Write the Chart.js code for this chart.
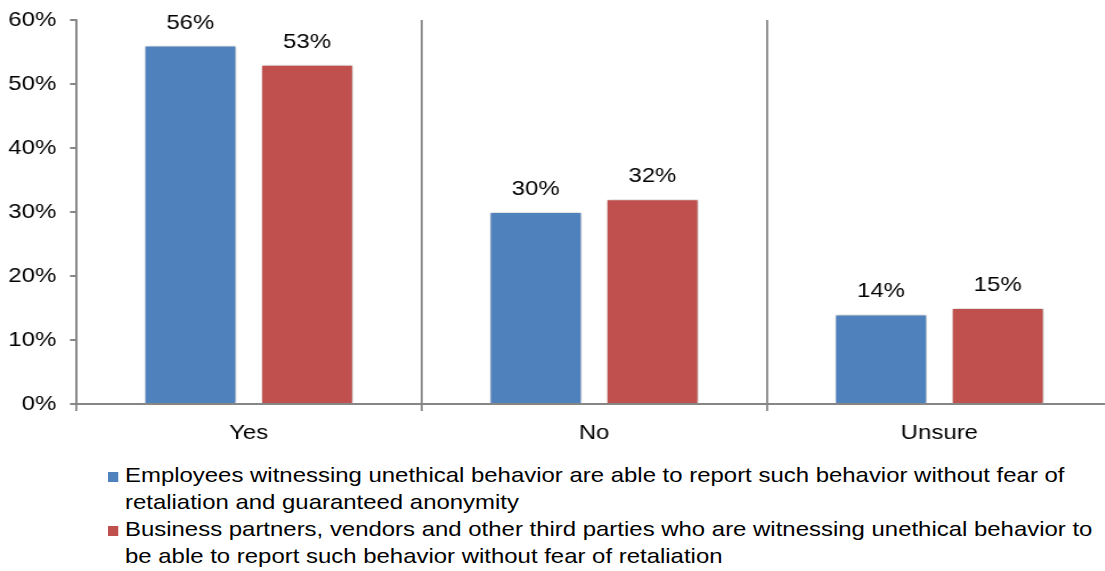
<!DOCTYPE html>
<html>
<head>
<meta charset="utf-8">
<script src="https://cdn.jsdelivr.net/npm/chart.js@4/dist/chart.umd.min.js"></script>
<style>
  html, body { margin: 0; padding: 0; background: #fff; overflow: hidden; }
  #wrap { position: relative; width: 1115px; height: 450px; }
  #myChart { width: 1115px; height: 450px; display: block; }
  #legend { position: absolute; left: 108px; top: 461px; font-family: "Liberation Sans", Arial, sans-serif; font-size: 21px; color: #000; line-height: 27px; white-space: nowrap; transform: scaleX(1.14); transform-origin: left top; }
  .item { position: relative; padding-left: 14.9px; }
  .box { position: absolute; left: 0; top: 11px; width: 8.8px; height: 10px; }
</style>
</head>
<body>
<div id="wrap"><canvas id="myChart" width="978" height="450" style="width:1115px;height:450px"></canvas></div>
<div id="legend"></div>
<script>
const categories = ['Yes', 'No', 'Unsure'];
const employees = [56, 30, 14];
const partners = [53, 32, 15];
const yTicks = [0, 10, 20, 30, 40, 50, 60];
const seriesNames = [
	'Employees witnessing unethical behavior are able to report such behavior without fear of retaliation and guaranteed anonymity',
	'Business partners, vendors and other third parties who are witnessing unethical behavior to be able to report such behavior without fear of retaliation'
];
// line breaks as in the original legend
const legendLines = [
	['Employees witnessing unethical behavior are able to report such behavior without fear of', 'retaliation and guaranteed anonymity'],
	['Business partners, vendors and other third parties who are witnessing unethical behavior to', 'be able to report such behavior without fear of retaliation']
];
const colors = ['#4F81BD', '#C0504D'];

const font = '"Liberation Sans", Arial, sans-serif';
Chart.defaults.font.family = font;
Chart.defaults.font.size = 21;
Chart.defaults.color = '#000';

// the original is a bit stretched sideways, so the canvas is drawn narrower and scaled up by css
const barShadow = {
	id: 'barShadow',
	beforeDatasetsDraw(chart) {
		const ctx = chart.ctx;
		ctx.save();
		ctx.shadowColor = 'rgba(0, 0, 0, 0.28)';
		ctx.shadowBlur = 4;
		ctx.shadowOffsetX = 1;
		ctx.shadowOffsetY = 0;
	},
	afterDatasetsDraw(chart) {
		chart.ctx.restore();
	}
};

const valueLabels = {
	id: 'valueLabels',
	afterDatasetsDraw(chart) {
		const ctx = chart.ctx;
		ctx.save();
		ctx.font = '21px ' + font;
		ctx.fillStyle = '#000';
		ctx.textAlign = 'center';
		ctx.textBaseline = 'alphabetic';
		chart.data.datasets.forEach((ds, i) => {
			chart.getDatasetMeta(i).data.forEach((bar, j) => {
				ctx.fillText(ds.data[j] + '%', bar.x, bar.y - 17);
			});
		});
		ctx.restore();
	}
};

const ctx = document.getElementById('myChart').getContext('2d');

let myChart = new Chart(ctx, {
	type: 'bar',
	data: {
		labels: categories,
		datasets: [{
			label: seriesNames[0],
			data: employees,
			backgroundColor: colors[0],
			borderColor: '#ffffff',
			borderWidth: 1
		}, {
			label: seriesNames[1],
			data: partners,
			backgroundColor: colors[1],
			borderColor: '#ffffff',
			borderWidth: 1
		}]
	},
	options: {
		responsive: false,
		animation: false,
		devicePixelRatio: 1,
		categoryPercentage: 0.676,
		barPercentage: 0.79,
		layout: { padding: { top: 0, right: 2.6 } },
		plugins: {
			legend: { display: false },
			tooltip: { enabled: false }
		},
		scales: {
			x: {
				grid: { offset: true, color: '#868686', lineWidth: 1.8, tickLength: 7 },
				border: { color: '#868686', width: 2 },
				ticks: { padding: 10 },
				afterFit(scale) { scale.height = 46; }
			},
			y: {
				min: 0,
				max: 60,
				afterBuildTicks(scale) { scale.ticks = yTicks.map(v => ({ value: v })); },
				grid: { drawOnChartArea: false, color: '#868686', lineWidth: 2, tickLength: 5.3 },
				border: { color: '#868686', width: 1.8 },
				ticks: { padding: 12, callback: v => v + '%' },
				afterFit(scale) {
					scale.width = 66.7;
					scale.paddingTop = 20;
					scale.paddingBottom = 0;
				}
			}
		}
	},
	plugins: [barShadow, valueLabels]
});

const legend = document.getElementById('legend');
legendLines.forEach((lines, i) => {
	const item = document.createElement('div');
	item.className = 'item';
	const box = document.createElement('span');
	box.className = 'box';
	box.style.background = colors[i];
	item.appendChild(box);
	lines.forEach(t => {
		const d = document.createElement('div');
		d.textContent = t;
		item.appendChild(d);
	});
	legend.appendChild(item);
});
</script>
</body>
</html>
